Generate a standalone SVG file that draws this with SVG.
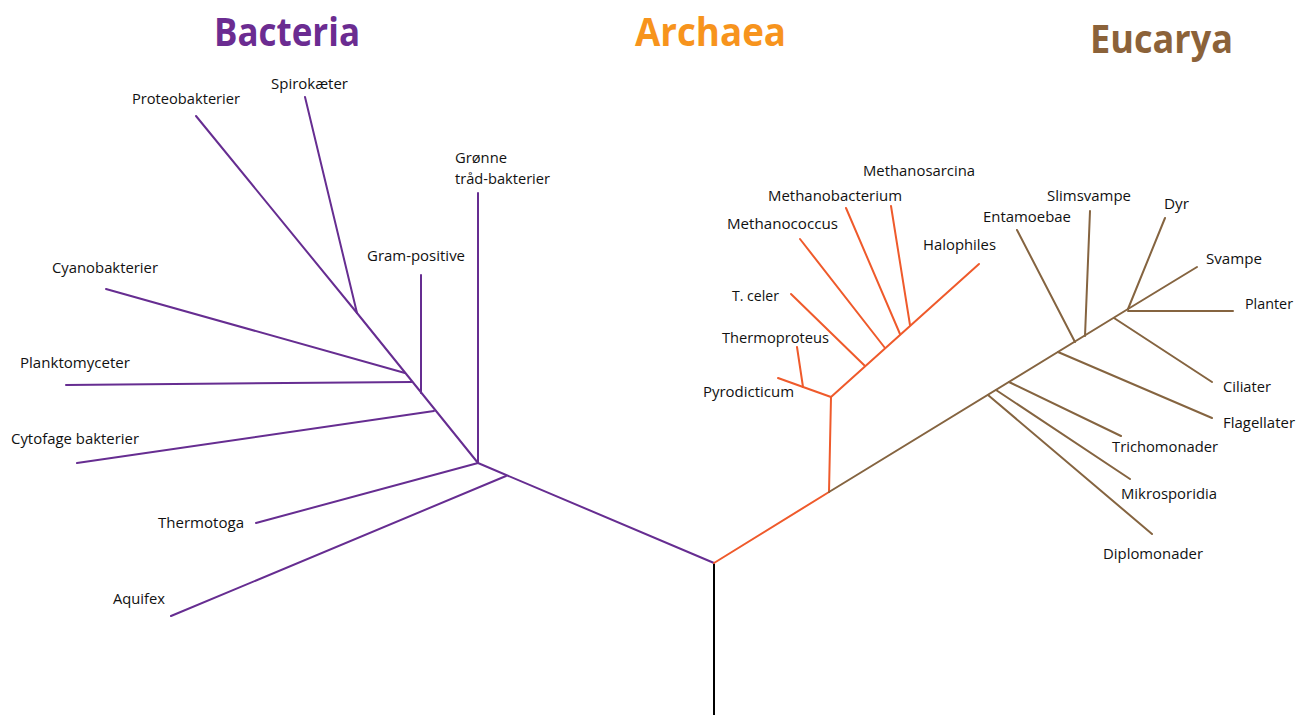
<svg xmlns="http://www.w3.org/2000/svg" width="1307" height="715" viewBox="0 0 1307 715">
<style>
.lbl{font-family:"Open Sans","Liberation Sans",sans-serif;font-size:14px;fill:#111}
.title{font-family:"Open Sans","Liberation Sans",sans-serif;font-size:40px;font-weight:700}
.b{stroke:#662d91;stroke-width:2;fill:none;stroke-linecap:round}
.a{stroke:#ef5a2b;stroke-width:2;fill:none;stroke-linecap:round}
.e{stroke:#856440;stroke-width:2;fill:none;stroke-linecap:round}
.r{stroke:#000;stroke-width:2;fill:none}
</style>
<rect width="1307" height="715" fill="#fff"/>
<g id="titles">
<text class="title" x="214" y="46" fill="#6b2c91" textLength="146" lengthAdjust="spacingAndGlyphs">Bacteria</text>
<text class="title" x="635" y="46" fill="#f7941d" textLength="151" lengthAdjust="spacingAndGlyphs">Archaea</text>
<text class="title" x="1090" y="53" fill="#8b6239" textLength="143" lengthAdjust="spacingAndGlyphs">Eucarya</text>
</g>
<g id="connectors">
<line class="r" x1="714" y1="563" x2="714" y2="715"/>
<line class="b" x1="714" y1="563" x2="478" y2="463"/>
<line class="b" x1="506" y1="476" x2="171" y2="616"/>
<line class="b" x1="478" y1="463" x2="256" y2="523"/>
<line class="b" x1="478" y1="463" x2="478" y2="193"/>
<line class="b" x1="478" y1="463" x2="357" y2="313"/>
<line class="b" x1="357" y1="313" x2="196" y2="116"/>
<line class="b" x1="357" y1="313" x2="305" y2="97"/>
<line class="b" x1="405" y1="373" x2="106" y2="289"/>
<line class="b" x1="412" y1="382" x2="66" y2="385"/>
<line class="b" x1="421" y1="393" x2="421" y2="275"/>
<line class="b" x1="434" y1="411" x2="77" y2="463"/>
<line class="a" x1="714" y1="563" x2="829" y2="492"/>
<line class="a" x1="829" y1="492" x2="831" y2="397"/>
<line class="a" x1="831" y1="397" x2="979" y2="264"/>
<line class="a" x1="831" y1="397" x2="778" y2="378"/>
<line class="a" x1="803" y1="387" x2="797" y2="347"/>
<line class="a" x1="865" y1="366" x2="791" y2="294"/>
<line class="a" x1="885" y1="348" x2="800" y2="239"/>
<line class="a" x1="900" y1="334" x2="846" y2="208"/>
<line class="a" x1="910" y1="325" x2="891" y2="206"/>
<line class="e" x1="829" y1="492" x2="1128" y2="309"/>
<line class="e" x1="988" y1="395" x2="1152" y2="534"/>
<line class="e" x1="996" y1="390" x2="1130" y2="479"/>
<line class="e" x1="1009" y1="382" x2="1121" y2="436"/>
<line class="e" x1="1058" y1="352" x2="1212" y2="418"/>
<line class="e" x1="1075" y1="342" x2="1017" y2="230"/>
<line class="e" x1="1085" y1="336" x2="1090" y2="211"/>
<line class="e" x1="1114" y1="318" x2="1212" y2="382"/>
<line class="e" x1="1128" y1="309" x2="1165" y2="218"/>
<line class="e" x1="1128" y1="309" x2="1197" y2="267"/>
<line class="e" x1="1128" y1="311" x2="1233" y2="311"/>
</g>
<g id="n-proteobakterier"><text class="lbl" x="132" y="104" textLength="108" lengthAdjust="spacingAndGlyphs">Proteobakterier</text></g>
<g id="n-spirokaeter"><text class="lbl" x="271" y="89" textLength="77" lengthAdjust="spacingAndGlyphs">Spirokæter</text></g>
<g id="n-gronne"><text class="lbl" x="455" y="163" textLength="52" lengthAdjust="spacingAndGlyphs">Grønne</text><text class="lbl" x="455" y="184" textLength="95" lengthAdjust="spacingAndGlyphs">tråd-bakterier</text></g>
<g id="n-gram"><text class="lbl" x="367" y="261" textLength="98" lengthAdjust="spacingAndGlyphs">Gram-positive</text></g>
<g id="n-cyano"><text class="lbl" x="52" y="273" textLength="106" lengthAdjust="spacingAndGlyphs">Cyanobakterier</text></g>
<g id="n-plankto"><text class="lbl" x="20" y="368" textLength="110" lengthAdjust="spacingAndGlyphs">Planktomyceter</text></g>
<g id="n-cytofage"><text class="lbl" x="11" y="444" textLength="128" lengthAdjust="spacingAndGlyphs">Cytofage bakterier</text></g>
<g id="n-thermotoga"><text class="lbl" x="158" y="528" textLength="86" lengthAdjust="spacingAndGlyphs">Thermotoga</text></g>
<g id="n-aquifex"><text class="lbl" x="113" y="604" textLength="52" lengthAdjust="spacingAndGlyphs">Aquifex</text></g>
<g id="n-methanosarcina"><text class="lbl" x="863" y="176" textLength="112" lengthAdjust="spacingAndGlyphs">Methanosarcina</text></g>
<g id="n-methanobacterium"><text class="lbl" x="768" y="201" textLength="134" lengthAdjust="spacingAndGlyphs">Methanobacterium</text></g>
<g id="n-methanococcus"><text class="lbl" x="727" y="229" textLength="111" lengthAdjust="spacingAndGlyphs">Methanococcus</text></g>
<g id="n-halophiles"><text class="lbl" x="923" y="250" textLength="73" lengthAdjust="spacingAndGlyphs">Halophiles</text></g>
<g id="n-tceler"><text class="lbl" x="732" y="301" textLength="47" lengthAdjust="spacingAndGlyphs">T. celer</text></g>
<g id="n-thermoproteus"><text class="lbl" x="722" y="343" textLength="107" lengthAdjust="spacingAndGlyphs">Thermoproteus</text></g>
<g id="n-pyrodicticum"><text class="lbl" x="703" y="397" textLength="91" lengthAdjust="spacingAndGlyphs">Pyrodicticum</text></g>
<g id="n-slimsvampe"><text class="lbl" x="1047" y="201" textLength="84" lengthAdjust="spacingAndGlyphs">Slimsvampe</text></g>
<g id="n-entamoebae"><text class="lbl" x="983" y="222" textLength="88" lengthAdjust="spacingAndGlyphs">Entamoebae</text></g>
<g id="n-dyr"><text class="lbl" x="1164" y="209" textLength="25" lengthAdjust="spacingAndGlyphs">Dyr</text></g>
<g id="n-svampe"><text class="lbl" x="1206" y="264" textLength="56" lengthAdjust="spacingAndGlyphs">Svampe</text></g>
<g id="n-planter"><text class="lbl" x="1245" y="309" textLength="48" lengthAdjust="spacingAndGlyphs">Planter</text></g>
<g id="n-ciliater"><text class="lbl" x="1223" y="392" textLength="48" lengthAdjust="spacingAndGlyphs">Ciliater</text></g>
<g id="n-flagellater"><text class="lbl" x="1223" y="428" textLength="72" lengthAdjust="spacingAndGlyphs">Flagellater</text></g>
<g id="n-trichomonader"><text class="lbl" x="1112" y="452" textLength="106" lengthAdjust="spacingAndGlyphs">Trichomonader</text></g>
<g id="n-mikrosporidia"><text class="lbl" x="1121" y="499" textLength="96" lengthAdjust="spacingAndGlyphs">Mikrosporidia</text></g>
<g id="n-diplomonader"><text class="lbl" x="1103" y="559" textLength="100" lengthAdjust="spacingAndGlyphs">Diplomonader</text></g>
</svg>
